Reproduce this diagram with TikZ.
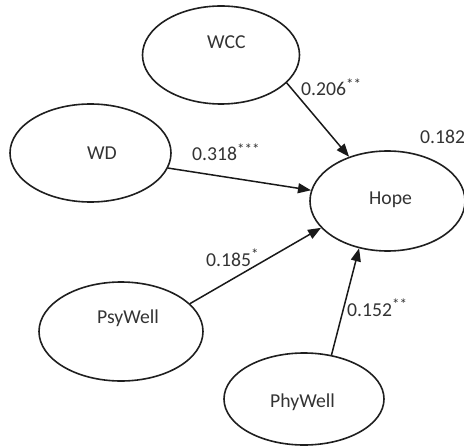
\documentclass[tikz,border=0pt]{standalone}
\usepackage{fontspec}
\setmainfont{Carlito}
\usetikzlibrary{shapes.geometric,arrows.meta}

% significance stars, set small and raised
\newcommand{\sigstars}[1]{\raisebox{6.5bp}{\fontsize{15bp}{15bp}\selectfont #1}}

\begin{document}
\begin{tikzpicture}[x=1bp,y=-1bp,
  latent/.style={ellipse, draw=black!88, line width=1.6bp, inner sep=0pt,
                 minimum width=#1},
  latent/.default=157bp,
  vname/.style={anchor=base west, inner sep=0pt, text=black!80,
                font=\fontsize{19.7bp}{23bp}\selectfont},
  coef/.style={anchor=base west, inner sep=0pt, text=black!80,
               font=\fontsize{19.7bp}{23bp}\selectfont},
  path/.style={draw=black!90, line width=1.5bp,
               -{Triangle[length=13bp,width=10bp]}}]
  \path[use as bounding box] (0,0) rectangle (464,446);

  % latent variables
  \node[latent=157bp, minimum height=98bp]  (WCC)     at (221,55)    {};
  \node[latent=161bp, minimum height=98bp]  (WD)      at (90.5,153)  {};
  \node[latent=155bp, minimum height=100bp] (Hope)    at (387.5,201) {};
  \node[latent=164bp, minimum height=99bp]  (PsyWell) at (121,331.5) {};
  \node[latent=160bp, minimum height=92bp]  (PhyWell) at (304,399)   {};

  % variable names
  \node[vname] (WCC-t)     at (207,49)  {WCC};
  \node[vname] (WD-t)      at (87,160)  {WD};
  \node[vname] (Hope-t)    at (369,205) {Hope};
  \node[vname] (PsyWell-t) at (97,323)  {PsyWell};
  \node[vname] (PhyWell-t) at (270,407) {PhyWell};

  % structural paths
  \draw[path] (WCC.-23)     -- (Hope.131);
  \draw[path] (WD.-11.5)    -- (Hope.172.7);
  \draw[path] (PsyWell.22.7) -- (Hope.202);
  \draw[path] (PhyWell.58.7) -- (Hope.239.6);

  % path coefficients and R-squared
  \node[coef] (c-wcc) at (301,96)  {0.206\sigstars{**}};
  \node[coef] (c-wd)  at (192,161) {0.318\sigstars{***}};
  \node[coef] (r2)    at (420,144) {0.182};
  \node[coef] (c-psy) at (206,266) {0.185\sigstars{*}};
  \node[coef] (c-phy) at (347,316) {0.152\sigstars{**}};
\end{tikzpicture}
\end{document}
